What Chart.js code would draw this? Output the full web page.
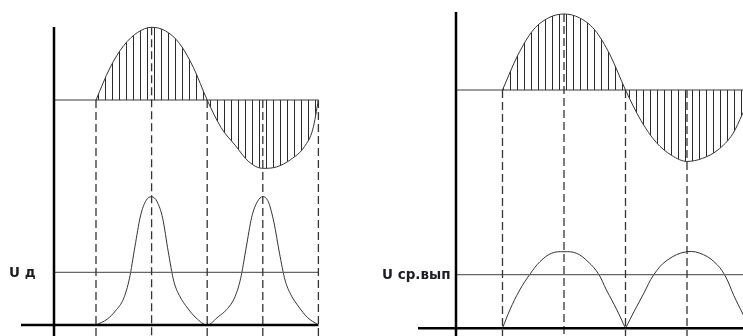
<!DOCTYPE html>
<html><head><meta charset="utf-8">
<script src="https://cdn.jsdelivr.net/npm/chart.js@4/dist/chart.umd.min.js"></script>
<style>
html,body{margin:0;padding:0;background:#fff;width:743px;height:336px;overflow:hidden}
canvas{position:absolute;top:0}
</style></head>
<body>
<canvas id="cL" width="370" height="336" style="left:0;width:370px;height:336px"></canvas>
<canvas id="cR" width="373" height="336" style="left:370px;width:373px;height:336px"></canvas>
<script>
// ---- data (x in quarter-periods, y normalised to peak = 1) ----
const guideX = [0, 1, 2, 3, 4];

const leftUpperX = [0,0.25,0.5,0.75,1,1.25,1.5,1.75,2,2.25,2.5,2.75,3,3.25,3.5,3.75,3.9,4];
const leftUpperY = [0,0.44,0.75,0.93,1,0.95,0.78,0.45,0,-0.38,-0.62,-0.85,-0.94,-0.92,-0.82,-0.64,-0.4,0];

const leftLowerX = [0,0.2,0.35,0.5,0.6,0.7,0.8,0.9,1,1.1,1.2,1.3,1.4,1.5,1.65,1.8,2,
                    2.2,2.35,2.5,2.6,2.7,2.8,2.9,3,3.1,3.2,3.3,3.4,3.5,3.65,3.8,4];
const leftLowerY = [0,0.045,0.11,0.21,0.36,0.61,0.85,0.97,1,0.96,0.83,0.57,0.34,0.23,0.13,0.055,0,
                    0.065,0.12,0.22,0.36,0.6,0.84,0.96,1,0.96,0.8,0.56,0.35,0.24,0.14,0.06,0];

const rightUpperX = [0,0.25,0.5,0.75,1,1.25,1.5,1.75,2,2.25,2.5,2.75,3,3.25,3.5,3.75,3.9,4.1];
const rightUpperY = [0,0.46,0.79,0.95,1,0.95,0.79,0.46,0,-0.40,-0.69,-0.86,-0.94,-0.90,-0.79,-0.57,-0.32,0];

const rightLowerX = [0,0.12,0.28,0.45,0.61,0.8,1,1.2,1.39,1.56,1.69,1.86,2,
                     2.14,2.3,2.46,2.68,3,3.27,3.49,3.63,3.76,3.9,4.02];
const rightLowerY = [0,0.24,0.5,0.71,0.87,0.98,1,0.98,0.87,0.71,0.5,0.24,0,
                     0.22,0.46,0.7,0.89,1,0.96,0.83,0.67,0.43,0.2,0];

const levelLabels = ['U д', 'U ср.вып'];
const levelValues = [0.41, 0.70];

// ---- layout (pixels) ----
const layoutL = {x0:96, ux:55.6, yU0:100, uAmp:72.7, yL0:325, lAmp:128.3,
                 axisX:54, axisTop:27, baseStart:21, lineEnd:4, labelX:9};
const layoutR = {x0:132.5, ux:61.5, yU0:90, uAmp:76, yL0:328.3, lAmp:76.6,
                 axisX:86, axisTop:12, baseStart:48, lineEnd:null, labelX:12};

function pts(xs, ys){ return xs.map((x,i)=>({x:x, y:ys[i]})); }
function splitAtZeros(xs, ys){
  const segs = []; let cur = [];
  for (let i=0;i<xs.length;i++){
    cur.push({x:xs[i], y:ys[i]});
    if (ys[i]===0 && i>0 && i<xs.length-1){ segs.push(cur); cur=[{x:xs[i], y:ys[i]}]; }
  }
  if (cur.length>1) segs.push(cur);
  return segs;
}

function buildPanel(id, P, upX, upY, loX, loY, splitLower, label, level){
  const cv = document.getElementById(id);
  const ctx0 = cv.getContext('2d');
  const W = cv.width, H = cv.height;
  const pc = document.createElement('canvas'); pc.width = 7; pc.height = 4;
  const pg = pc.getContext('2d'); pg.fillStyle = '#2a2a2a'; pg.fillRect(0,0,1,4);
  const hatch = ctx0.createPattern(pc, 'repeat');

  const lowerSegs = splitLower ? splitAtZeros(loX, loY) : [pts(loX, loY)];
  const datasets = [{
    data: pts(upX, upY), xAxisID:'x', yAxisID:'yU', showLine:true,
    borderColor:'#333', borderWidth:1, pointRadius:0,
    fill:'origin', backgroundColor: hatch, cubicInterpolationMode:'monotone'
  }];
  lowerSegs.forEach(seg => datasets.push(Object.assign({
    data: seg, xAxisID:'x', yAxisID:'yL', showLine:true,
    borderColor:'#333', borderWidth:1, pointRadius:0, fill:false
  }, splitLower ? {tension:0.4} : {cubicInterpolationMode:'monotone'})));

  const guides = {
    id:'guides',
    afterDatasetsDraw(chart){
      const {ctx, chartArea} = chart;
      const x = chart.scales.x, yU = chart.scales.yU, yL = chart.scales.yL;
      const xr = P.lineEnd == null ? chartArea.right : x.getPixelForValue(P.lineEnd);
      const ln = (a,b,c,d)=>{ ctx.beginPath(); ctx.moveTo(a,b); ctx.lineTo(c,d); ctx.stroke(); };
      ctx.save();
      ctx.strokeStyle = '#3c3c3c'; ctx.lineWidth = 1.2;
      const yz = yU.getPixelForValue(0);
      ln(P.axisX, yz, xr, yz);
      ctx.strokeStyle = '#666'; ctx.lineWidth = 1.2;
      const yl = yL.getPixelForValue(level);
      ln(P.axisX, yl, xr, yl);
      ctx.setLineDash([8,4]); ctx.strokeStyle = '#333'; ctx.lineWidth = 1.3;
      guideX.forEach(g => {
        const k = upX.indexOf(g);
        const top = Math.max(0, k>=0 ? upY[k] : 0);
        const px = x.getPixelForValue(g);
        ln(px, yU.getPixelForValue(top), px, chartArea.bottom);
      });
      ctx.setLineDash([]);
      ctx.strokeStyle = '#000'; ctx.lineWidth = 2.5;
      ln(P.axisX, P.axisTop, P.axisX, chartArea.bottom);
      const yb = yL.getPixelForValue(0);
      ln(P.baseStart, yb, xr, yb);
      ctx.fillStyle = '#1d1d24';
      ctx.font = 'bold 13.5px "DejaVu Sans"';
      ctx.textBaseline = 'middle'; ctx.textAlign = 'left';
      ctx.fillText(label, P.labelX, yl + 1);
      ctx.restore();
    }
  };

  return new Chart(cv, {
    type:'scatter',
    data:{datasets},
    options:{
      responsive:false, animation:false, devicePixelRatio:1, events:[],
      layout:{padding:0},
      plugins:{legend:{display:false}, tooltip:{enabled:false}},
      scales:{
        x:{type:'linear', display:false, min:-P.x0/P.ux, max:(W-P.x0)/P.ux},
        yU:{type:'linear', display:false, min:(P.yU0-H)/P.uAmp, max:P.yU0/P.uAmp},
        yL:{type:'linear', display:false, min:(P.yL0-H)/P.lAmp, max:P.yL0/P.lAmp}
      }
    },
    plugins:[guides]
  });
}

buildPanel('cL', layoutL, leftUpperX, leftUpperY, leftLowerX, leftLowerY, false, levelLabels[0], levelValues[0]);
buildPanel('cR', layoutR, rightUpperX, rightUpperY, rightLowerX, rightLowerY, true, levelLabels[1], levelValues[1]);
</script>
</body></html>
